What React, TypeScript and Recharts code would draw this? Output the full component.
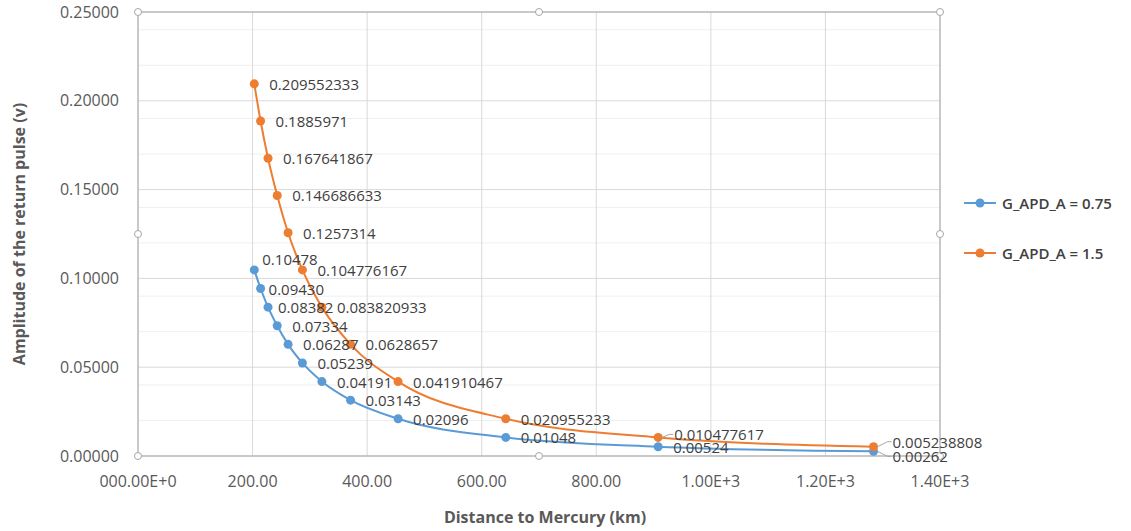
import React from 'react';
import {
  LineChart,
  Line,
  XAxis,
  YAxis,
  CartesianGrid,
  Legend,
  LabelList,
  ReferenceArea,
  ReferenceDot,
} from 'recharts';

const distances = [203, 214, 227, 243, 262, 287, 321, 371, 454, 642, 908, 1284];

// amplitude of the return pulse (v) for the two APD gains
const ampLow = [
  0.10478, 0.0943, 0.08382, 0.07334, 0.06287, 0.05239, 0.04191, 0.03143, 0.02096, 0.01048,
  0.00524, 0.00262,
];
const ampHigh = [
  0.209552333, 0.1885971, 0.167641867, 0.146686633, 0.1257314, 0.104776167, 0.083820933,
  0.0628657, 0.041910467, 0.020955233, 0.010477617, 0.005238808,
];

const seriesNames = ['G_APD_A = 0.75', 'G_APD_A = 1.5'];
const xTicks = [0, 200, 400, 600, 800, 1000, 1200, 1400];
const yTicks = [0, 0.05, 0.1, 0.15, 0.2, 0.25];
const yMinor = [
  0.01, 0.02, 0.03, 0.04, 0.06, 0.07, 0.08, 0.09, 0.11, 0.12, 0.13, 0.14, 0.16, 0.17, 0.18,
  0.19, 0.21, 0.22, 0.23, 0.24,
];

const BLUE = '#5b9bd5';
const ORANGE = '#ed7d31';
const FONT = '"Open Sans", "Noto Sans", sans-serif';

const data = distances.map((d, i) => ({ d, low: ampLow[i], high: ampHigh[i] }));

const fmtX = (v: number) => {
  if (v === 0) return '000.00E+0';
  if (v >= 1000) return (v / 1000).toFixed(2) + 'E+3';
  return v.toFixed(2);
};

// small nudges where Excel moved labels to avoid overlaps
const lowNudge: Record<number, [number, number]> = {
  0: [8, -11],
  1: [8, 0],
  2: [10, 0],
  11: [19, 5],
};
const highNudge: Record<number, [number, number]> = {
  10: [16, -3],
  11: [19, -5],
};

const makeLabel = (series: 'low' | 'high') => (props: any) => {
  const { x, y, value, index } = props;
  const nudge = (series === 'low' ? lowNudge : highNudge)[index] || [15, 0];
  const text = series === 'low' ? Number(value).toFixed(5) : String(value);
  const tx = x + nudge[0];
  const ty = y + nudge[1];
  const leader = (series === 'high' && index >= 10) || (series === 'low' && index === 11);
  return (
    <g>
      {leader && (
        <path
          d={`M${x + 4},${y} L${tx - 5},${ty} L${tx - 1},${ty}`}
          stroke="#a6a6a6"
          fill="none"
          strokeWidth={1}
        />
      )}
      <text
        x={tx}
        y={ty}
        dominantBaseline="central"
        fontFamily={FONT}
        fontSize={15}
        fill="#404040"
      >
        {text}
      </text>
    </g>
  );
};

const LegendBox = () => (
  <div style={{ fontFamily: FONT, paddingLeft: 24, whiteSpace: 'nowrap' }}>
    {[BLUE, ORANGE].map((c, i) => (
      <div key={i} style={{ display: 'flex', alignItems: 'center', height: 50 }}>
        <svg width={34} height={12} style={{ flexShrink: 0 }}>
          <line x1={0} y1={6} x2={32} y2={6} stroke={c} strokeWidth={2} />
          <circle cx={16} cy={6} r={4.5} fill={c} />
        </svg>
        <span style={{ fontSize: 15, fontWeight: 600, color: '#404040', marginLeft: 4 }}>
          {seriesNames[i]}
        </span>
      </div>
    ))}
  </div>
);

const handles = [
  [0, 0.25],
  [700, 0.25],
  [1400, 0.25],
  [0, 0.125],
  [1400, 0.125],
  [0, 0],
  [700, 0],
  [1400, 0],
];

export default function App() {
  return (
    <div style={{ position: 'absolute', left: 0, top: 0, background: '#fff' }}>
      <LineChart
        width={1131}
        height={531}
        data={data}
        margin={{ top: 12, right: 0, bottom: 0, left: 0 }}
      >
        <CartesianGrid
          horizontalValues={yMinor}
          vertical={false}
          stroke="#efefef"
          strokeWidth={1}
        />
        <CartesianGrid
          horizontalValues={yTicks}
          verticalValues={xTicks}
          stroke="#d9d9d9"
          strokeWidth={1}
        />
        <XAxis
          type="number"
          dataKey="d"
          domain={[0, 1400]}
          ticks={xTicks}
          tickFormatter={fmtX}
          height={75}
          axisLine={false}
          tickLine={false}
          tickSize={6}
          tickMargin={14}
          tick={{ fill: '#595959', fontSize: 16, fontFamily: FONT }}
          label={{
            value: 'Distance to Mercury (km)',
            position: 'insideBottom',
            offset: 8,
            dx: 6,
            fill: '#595959',
            fontSize: 16,
            fontWeight: 700,
            fontFamily: FONT,
          }}
        />
        <YAxis
          type="number"
          domain={[0, 0.25]}
          ticks={yTicks}
          tickFormatter={(v: number) => v.toFixed(5)}
          width={138}
          axisLine={false}
          tickLine={false}
          tickSize={6}
          tickMargin={13}
          tick={{ fill: '#595959', fontSize: 16, fontFamily: FONT }}
          label={{
            content: () => (
              <text
                x={19}
                y={234}
                transform="rotate(-90 19 234)"
                textAnchor="middle"
                dominantBaseline="central"
                fill="#595959"
                fontSize={16}
                fontWeight={700}
                fontFamily={FONT}
              >
                Amplitude of the return pulse (v)
              </text>
            ),
          }}
        />
        <ReferenceArea
          x1={0}
          x2={1400}
          y1={0}
          y2={0.25}
          fill="none"
          stroke="#a6a6a6"
          strokeWidth={1}
        />
        <Legend
          layout="vertical"
          align="right"
          verticalAlign="middle"
          width={191}
          wrapperStyle={{ top: 178 }}
          content={() => <LegendBox />}
        />
        <Line
          type="monotone"
          dataKey="low"
          name={seriesNames[0]}
          stroke={BLUE}
          strokeWidth={2}
          dot={{ r: 4.5, fill: BLUE, stroke: BLUE, strokeWidth: 0 }}
          activeDot={false}
          isAnimationActive={false}
        >
          <LabelList dataKey="low" content={makeLabel('low')} />
        </Line>
        <Line
          type="monotone"
          dataKey="high"
          name={seriesNames[1]}
          stroke={ORANGE}
          strokeWidth={2}
          dot={{ r: 4.5, fill: ORANGE, stroke: ORANGE, strokeWidth: 0 }}
          activeDot={false}
          isAnimationActive={false}
        >
          <LabelList dataKey="high" content={makeLabel('high')} />
        </Line>
        {handles.map(([hx, hy], i) => (
          <ReferenceDot
            key={i}
            x={hx}
            y={hy}
            r={3.5}
            fill="#fff"
            stroke="#a6a6a6"
            strokeWidth={1}
            ifOverflow="visible"
          />
        ))}
      </LineChart>
    </div>
  );
}
